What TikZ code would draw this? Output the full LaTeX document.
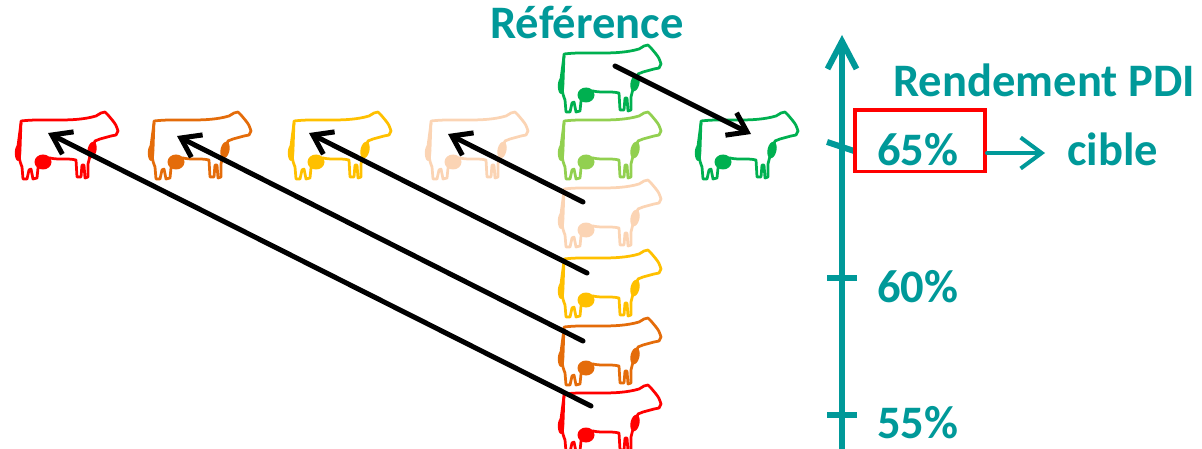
\documentclass[tikz,border=0pt]{standalone}
\usepackage{fontspec}
\setmainfont{Carlito}
\usetikzlibrary{arrows.meta}

\definecolor{pdiTeal}{RGB}{0,153,153}
\definecolor{cowRed}{RGB}{255,0,0}
\definecolor{cowOrange}{RGB}{228,108,10}
\definecolor{cowYellow}{RGB}{255,192,0}
\definecolor{cowPeach}{RGB}{251,212,180}
\definecolor{cowLime}{RGB}{146,208,80}
\definecolor{cowGreen}{RGB}{0,176,80}

\tikzset{
  cowline/.style={line width=0.055cm, line join=round, line cap=round},
  % outline cow facing right, about 108 x 68 units
  cow/.pic={
    \draw[cowline] (11,9) .. controls (35,6) and (62,11) .. (86,4)
      -- (91,1) -- (95,0) -- (98,3) -- (103,9)
      .. controls (106,13) .. (108,19)
      -- (106,23) -- (101,24)
      .. controls (95,25) .. (90,27)
      -- (85,29) -- (80,44) -- (78,52) -- (78,65) -- (75,66) -- (74,53)
      -- (72,53) -- (71,65) -- (67,65) -- (66,48)
      .. controls (58,46) and (48,48) .. (40,46)
      -- (30,48) -- (28,56) -- (27,66) -- (23,67) -- (21,57) -- (19,58)
      -- (17,67) -- (13,67) -- (12,55)
      .. controls (9,47) .. (10,38) -- cycle;
    \draw[cowline] (11,11) -- (8,34);
    \fill (33,50) ellipse (8.5 and 7.5);
    \fill[rotate around={-12:(82,38)}] (82,38) ellipse (4.5 and 8.5);
    \fill (8,41) ellipse (3.2 and 8);
  },
  movearrow/.style={line width=0.1cm, line cap=round, black,
    -{Straight Barb[length=0.36cm,width=0.5cm]}},
  axisline/.style={line width=0.12cm, pdiTeal},
  lbl/.style={text=pdiTeal, font=\fontsize{26.5}{30}\selectfont\bfseries,
    inner sep=0pt, anchor=base west},
}

\begin{document}
\begin{tikzpicture}[x=0.02cm, y=-0.02cm]
\useasboundingbox (0,0) rectangle (1202,449);

% column of cows
\pic (colA) [color=cowGreen]  at (553,45)  {cow};
\pic (colB) [color=cowLime]   at (553,112) {cow};
\pic (colC) [color=cowPeach]  at (553,180) {cow};
\pic (colD) [color=cowYellow] at (553,250) {cow};
\pic (colE) [color=cowOrange] at (553,318) {cow};
\pic (colF) [color=cowRed]    at (553,385) {cow};

% row of cows
\pic (rowR) [color=cowRed]    at (10,112)  {cow};
\pic (rowO) [color=cowOrange] at (143,112) {cow};
\pic (rowY) [color=cowYellow] at (283,112) {cow};
\pic (rowP) [color=cowPeach]  at (420,112) {cow};
\pic (rowG) [color=cowGreen]  at (690,112) {cow};

% arrow ends
\coordinate (fromA) at (615,66);
\coordinate (fromC) at (583,202);
\coordinate (fromD) at (587,273);
\coordinate (fromE) at (583,341);
\coordinate (fromF) at (591,406);
\coordinate (toG) at (751,134);
\coordinate (toP) at (448,134);
\coordinate (toY) at (309,133);
\coordinate (toO) at (177,136);
\coordinate (toR) at (48,133);

\draw[movearrow] (fromA) -- (toG);
\draw[movearrow] (fromC) -- (toP);
\draw[movearrow] (fromD) -- (toY);
\draw[movearrow] (fromE) -- (toO);
\draw[movearrow] (fromF) -- (toR);

% axis with ticks
\coordinate (axbot) at (842,449);
\coordinate (axtop) at (842,35);
\draw[axisline, -{Straight Barb[length=0.55cm,width=0.58cm]}] (axbot) -- (axtop);
\coordinate (t65a) at (827,142);
\coordinate (t65b) at (854,151);
\coordinate (t60a) at (827,278);
\coordinate (t60b) at (857,278);
\coordinate (t55a) at (827,415);
\coordinate (t55b) at (857,415);
\draw[axisline] (t65a) -- (t65b);
\draw[axisline] (t60a) -- (t60b);
\draw[axisline] (t55a) -- (t55b);

% labels
\node[lbl] (ref) at (490,39) {Référence};
\node[lbl] (rend) at (893,97) {Rendement PDI};
\node[lbl] (p65) at (877,166) {65\%};
\node[lbl] (p60) at (877,302) {60\%};
\node[lbl] (p55) at (877,438) {55\%};
\node[lbl] (cible) at (1067,166) {cible};

% target box and its arrow
\node[draw=cowRed, line width=0.08cm, minimum width=130*0.02cm,
  minimum height=61*0.02cm, inner sep=0pt] (box) at (920,141) {};
\coordinate (cibletip) at (1045,153);
\draw[line width=0.08cm, pdiTeal, line cap=round,
  -{Straight Barb[length=0.42cm,width=0.62cm]}] (box.east |- cibletip) -- (cibletip);
\end{tikzpicture}
\end{document}
